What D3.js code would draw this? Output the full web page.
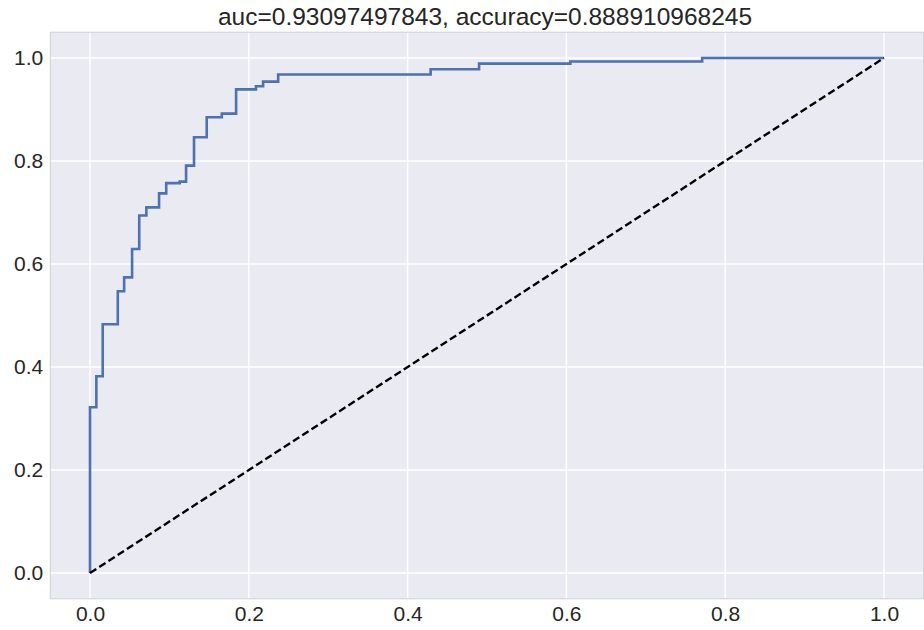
<!DOCTYPE html>
<html>
<head>
<meta charset="utf-8">
<script src="https://d3js.org/d3.v7.min.js"></script>
<style>
  html, body { margin: 0; padding: 0; background: #ffffff; }
  svg { display: block; }
  text { font-family: "Liberation Sans", Arial, sans-serif; fill: #262626; }
</style>
</head>
<body>
<svg id="chart" width="924" height="630"></svg>
<script>
// ROC curve corner points (false positive rate, true positive rate)
const fpr = [0, 0, 0.008, 0.008, 0.016, 0.016, 0.035, 0.035, 0.043, 0.043,
  0.053, 0.053, 0.062, 0.062, 0.071, 0.071, 0.087, 0.087, 0.096, 0.096,
  0.113, 0.113, 0.121, 0.121, 0.131, 0.131, 0.147, 0.147, 0.166, 0.166,
  0.184, 0.184, 0.209, 0.209, 0.218, 0.218, 0.237, 0.237, 0.429, 0.429,
  0.490, 0.490, 0.605, 0.605, 0.771, 0.771, 1.0];
const tpr = [0, 0.322, 0.322, 0.382, 0.382, 0.483, 0.483, 0.547, 0.547, 0.574,
  0.574, 0.629, 0.629, 0.694, 0.694, 0.710, 0.710, 0.737, 0.737, 0.757,
  0.757, 0.760, 0.760, 0.791, 0.791, 0.846, 0.846, 0.885, 0.885, 0.892,
  0.892, 0.939, 0.939, 0.945, 0.945, 0.954, 0.954, 0.968, 0.968, 0.978,
  0.978, 0.989, 0.989, 0.993, 0.993, 1.0, 1.0];
// Chance diagonal
const diagX = [0, 1];
const diagY = [0, 1];
const xTicks = [0.0, 0.2, 0.4, 0.6, 0.8, 1.0];
const yTicks = [0.0, 0.2, 0.4, 0.6, 0.8, 1.0];
const titleText = "auc=0.93097497843, accuracy=0.888910968245";

const svg = d3.select("#chart");
const plot = { left: 50.3, right: 923.7, top: 32.2, bottom: 598.8 };

const x = d3.scaleLinear().domain([-0.05, 1.05]).range([plot.left, plot.right]);
const y = d3.scaleLinear().domain([-0.05, 1.05]).range([plot.bottom, plot.top]);

// Axes background
svg.append("rect")
  .attr("x", plot.left).attr("y", plot.top)
  .attr("width", plot.right - plot.left).attr("height", plot.bottom - plot.top)
  .attr("fill", "#EAEAF2");

// Grid lines
const grid = svg.append("g").attr("class", "grid");
grid.selectAll("line.gx").data(xTicks).join("line")
  .attr("x1", d => x(d)).attr("x2", d => x(d))
  .attr("y1", plot.top).attr("y2", plot.bottom)
  .attr("stroke", "#ffffff").attr("stroke-width", 1.4);
grid.selectAll("line.gy").data(yTicks).join("line")
  .attr("y1", d => y(d)).attr("y2", d => y(d))
  .attr("x1", plot.left).attr("x2", plot.right)
  .attr("stroke", "#ffffff").attr("stroke-width", 1.4);

// Axes frame
svg.append("rect")
  .attr("x", plot.left).attr("y", plot.top)
  .attr("width", plot.right - plot.left).attr("height", plot.bottom - plot.top)
  .attr("fill", "none").attr("stroke", "#cfcfd6").attr("stroke-width", 1);

// Tick labels via d3 axes (no tick marks, no domain line)
const xAxis = d3.axisBottom(x).tickValues(xTicks).tickFormat(d3.format(".1f"))
  .tickSize(0).tickPadding(7);
const gx = svg.append("g").attr("transform", `translate(0,${plot.bottom})`).call(xAxis);
gx.select(".domain").remove();
gx.selectAll("text").attr("font-size", 21).attr("font-family", "Liberation Sans, Arial, sans-serif")
  .attr("fill", "#262626").attr("dy", "0.71em");

const yAxis = d3.axisLeft(y).tickValues(yTicks).tickFormat(d3.format(".1f"))
  .tickSize(0).tickPadding(7);
const gy = svg.append("g").attr("transform", `translate(${plot.left},0)`).call(yAxis);
gy.select(".domain").remove();
gy.selectAll("text").attr("font-size", 21).attr("font-family", "Liberation Sans, Arial, sans-serif")
  .attr("fill", "#262626");

// ROC curve
const rocPts = fpr.map((f, i) => [f, tpr[i]]);
const line = d3.line().x(d => x(d[0])).y(d => y(d[1]));
svg.append("path")
  .datum(rocPts)
  .attr("d", line)
  .attr("fill", "none")
  .attr("stroke", "#4C72B0")
  .attr("stroke-width", 2.6)
  .attr("stroke-linejoin", "miter");

// Chance diagonal
svg.append("path")
  .datum(diagX.map((d, i) => [d, diagY[i]]))
  .attr("d", line)
  .attr("fill", "none")
  .attr("stroke", "#000000")
  .attr("stroke-width", 2.4)
  .attr("stroke-dasharray", "7.5,3.5");

// Title
svg.append("text")
  .attr("x", (plot.left + plot.right) / 2 - 2)
  .attr("y", 25)
  .attr("text-anchor", "middle")
  .attr("font-size", 24.5)
  .text(titleText);
</script>
</body>
</html>
